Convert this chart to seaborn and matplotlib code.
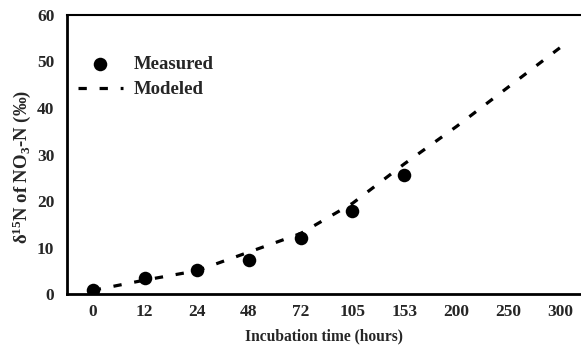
import matplotlib
matplotlib.use("Agg")
import matplotlib.pyplot as plt
import seaborn as sns
import pandas as pd

# Data
time_labels = ["0", "12", "24", "48", "72", "105", "153", "200", "250", "300"]
measured_times = ["0", "12", "24", "48", "72", "105", "153"]
measured_values = [0.9, 3.4, 5.2, 7.3, 12.0, 17.8, 25.6]
modeled_values = [0.8, 3.0, 5.0, 9.0, 13.0, 19.5, 28.0, 36.0, 44.5, 53.0]

sns.set_theme(style="white")
plt.rcParams["font.family"] = ["Liberation Serif", "DejaVu Serif"]
plt.rcParams["font.weight"] = "bold"
plt.rcParams["mathtext.fontset"] = "custom"
plt.rcParams["mathtext.rm"] = "Liberation Serif:bold"
plt.rcParams["mathtext.bf"] = "Liberation Serif:bold"
plt.rcParams["mathtext.it"] = "Liberation Serif:bold:italic"
plt.rcParams["mathtext.default"] = "rm"

df_mod = pd.DataFrame({"time": time_labels, "value": modeled_values})
df_meas = pd.DataFrame({"time": measured_times, "value": measured_values})

fig = plt.figure(figsize=(5.81, 3.48), dpi=100)
ax = fig.add_axes([0.115, 0.155, 0.885, 0.802])

sns.lineplot(data=df_mod, x="time", y="value", ax=ax, color="black",
             linewidth=2.3, label="Modeled", sort=False)
ax.lines[0].set_dashes((2.6, 4.0))
sns.scatterplot(data=df_meas, x="time", y="value", ax=ax, color="black",
                s=95, edgecolor="black", linewidth=0, label="Measured", zorder=3)

ax.set_ylim(0, 60)
ax.set_xlim(-0.5, 9.4)
ax.set_yticks([0, 10, 20, 30, 40, 50, 60])
ax.tick_params(axis="both", length=0, labelsize=12.5)
ax.tick_params(axis="x", pad=7)
ax.tick_params(axis="y", pad=9)
for lbl in ax.get_xticklabels() + ax.get_yticklabels():
    lbl.set_fontweight("bold")

ax.set_xlabel("Incubation time (hours)", fontsize=11.2, fontweight="bold", labelpad=6)
ax.set_ylabel(r"δ$^{15}$N of NO$_3$-N (‰)", fontsize=13.5, fontweight="bold")
ax.yaxis.set_label_coords(-0.066, 0.455)

for side in ["left", "bottom"]:
    ax.spines[side].set_linewidth(2.0)
    ax.spines[side].set_color("black")
ax.spines["top"].set_linewidth(1.5)
ax.spines["top"].set_color("black")
ax.spines["right"].set_visible(False)

handles, labels = ax.get_legend_handles_labels()
order = [labels.index("Measured"), labels.index("Modeled")]
ax.legend([handles[i] for i in order], [labels[i] for i in order],
          loc="upper left", bbox_to_anchor=(0.021, 0.855), frameon=False,
          borderpad=0, borderaxespad=0,
          prop={"family": "Liberation Serif", "weight": "bold", "size": 13.5},
          handlelength=2.4, handletextpad=0.6, labelspacing=0.45)

fig.savefig("out.png", dpi=100)
